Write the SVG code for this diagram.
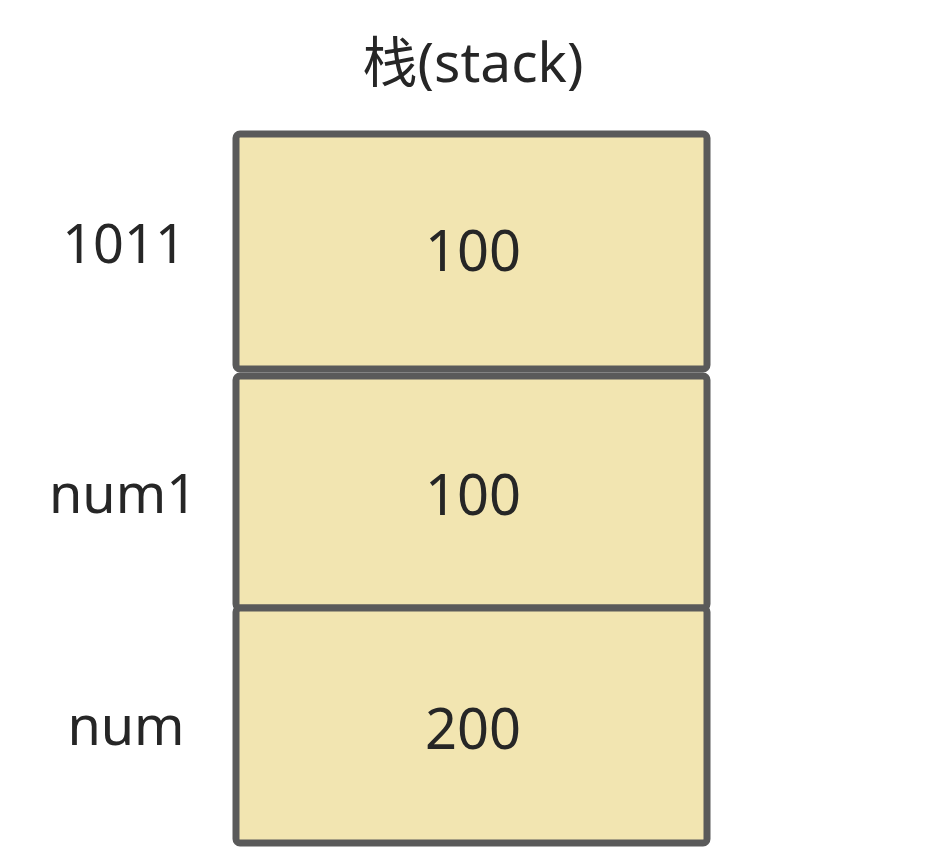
<svg xmlns="http://www.w3.org/2000/svg" width="940" height="850" viewBox="0 0 940 850">
<style>
.cell{fill:#f2e5b1;stroke:#5a5a5a;stroke-width:7}
.t{font-family:"Noto Sans","Noto Sans CJK SC",sans-serif;fill:#262626;text-anchor:middle}
.v{font-size:56px}
.l{font-size:54px}
.h{font-size:55px}
</style>
<rect width="940" height="850" fill="#ffffff"/>
<text class="t h" x="473" y="82">栈(stack)</text>
<g id="cell-1011">
<rect class="cell" x="236" y="134" width="471" height="235" rx="4"/>
<text class="t v" x="473" y="271">100</text>
</g>
<g id="cell-num1">
<rect class="cell" x="236" y="376" width="471" height="232" rx="4"/>
<text class="t v" x="473" y="515">100</text>
</g>
<g id="cell-num">
<rect class="cell" x="236" y="608" width="471" height="235" rx="4"/>
<text class="t v" x="473" y="749">200</text>
</g>
<g id="labels">
<text class="t l" x="124" y="263">1011</text>
<text class="t l" x="123" y="513">num1</text>
<text class="t l" x="126" y="745">num</text>
</g>
<g id="connectors"></g>
</svg>
